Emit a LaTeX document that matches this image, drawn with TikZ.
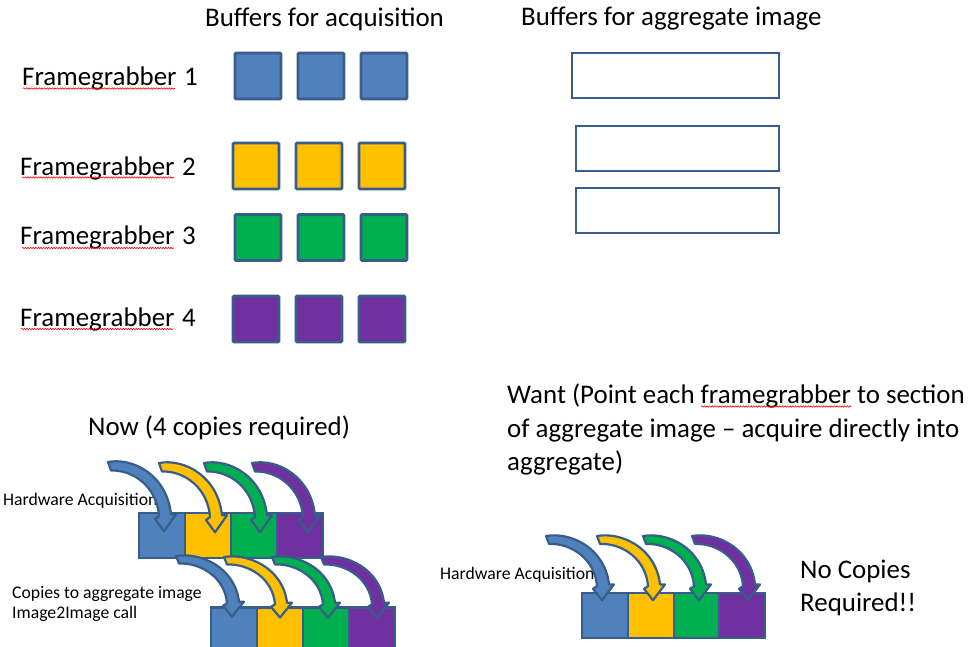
\documentclass[tikz,border=0pt]{standalone}
\usepackage{fontspec}
\setmainfont{Carlito}
\usetikzlibrary{decorations.pathmorphing}
\definecolor{cblue}{HTML}{4F81BD}
\definecolor{cyellow}{HTML}{FFC000}
\definecolor{cgreen}{HTML}{00B050}
\definecolor{cpurple}{HTML}{7030A0}
\definecolor{bord}{HTML}{385D8A}
\tikzset{
  big/.style={font=\fontsize{26.9}{32}\selectfont, inner sep=0, anchor=base west},
  small/.style={font=\fontsize{17.7}{20}\selectfont, inner sep=0, anchor=base west},
  cell/.style={draw=bord, line width=2.6, minimum width=46, minimum height=46, inner sep=0, rounded corners=1},
  scell/.style={draw=bord, line width=2.8, minimum width=46, minimum height=45, inner sep=0},
  aggbox/.style={draw=bord, line width=2.2, fill=white, inner sep=0},
  squig/.style={red, line width=0.6, decorate, decoration={snake, amplitude=0.7, segment length=2.6}},
  pics/carrow/.style={code={
    \filldraw[fill=#1, draw=bord, line width=2.2, line join=round]
      (0,0) .. controls (25,-5) and (59,14) .. (63,55) -- (68,55) -- (56,73) -- (47,60)
      -- (51,57) .. controls (49,26) and (25,8) .. (3,9) -- cycle;}}
}
\begin{document}
\begin{tikzpicture}[x=1pt,y=-1pt]
\useasboundingbox (0,0) rectangle (979,646);
% headers
\node[big] (h1) at (205,26) {Buffers for acquisition};
\node[big] (h2) at (521,25) {Buffers for aggregate image};
% framegrabber labels
\node[big] (f1) at (22,85) {Framegrabber\ \hspace{1.5pt}1};
\node[big] (f2) at (20,175) {Framegrabber\ \hspace{1.5pt}2};
\node[big] (f3) at (20,244) {Framegrabber\ \hspace{1.5pt}3};
\node[big] (f4) at (20,326) {Framegrabber\ \hspace{1.5pt}4};
\draw[squig] (23,88.5) -- (175,88.5);
\draw[squig] (22,177.5) -- (174,177.5);
\draw[squig] (22,248) -- (174,248);
\draw[squig] (21,329) -- (173,329);
% acquisition buffers
\foreach \x [count=\i] in {258,321,384}{
  \node[cell, fill=cblue] (b1\i) at (\x,76) {};}
\foreach \x [count=\i] in {256,319,382}{
  \node[cell, fill=cyellow] (b2\i) at (\x,166) {};}
\foreach \x [count=\i] in {258,321,384}{
  \node[cell, fill=cgreen] (b3\i) at (\x,237.5) {};}
\foreach \x [count=\i] in {256,319,382}{
  \node[cell, fill=cpurple] (b4\i) at (\x,319) {};}
% aggregate buffers
\node[aggbox, minimum width=207, minimum height=45] (a1) at (675.5,75.5) {};
\node[aggbox, minimum width=203, minimum height=45] (a2) at (677.5,148.5) {};
\node[aggbox, minimum width=203, minimum height=45] (a3) at (677.5,210.5) {};
% texts
\node[big] (now) at (88,435) {Now (4 copies required)};
\node[big] (w1) at (507,403) {Want (Point each framegrabber to section};
\node[big] (w2) at (507,437) {of aggregate image -- acquire directly into};
\node[big] (w3) at (507,470) {aggregate)};
\draw[squig] (701,406.5) -- (851,406.5);
\node[big] (nc1) at (800,578) {No Copies};
\node[big] (nc2) at (800,611) {Required!!};
\node[small] (hw1) at (3,505) {Hardware Acquisition};
\node[small] (cp1) at (12,598) {Copies to aggregate image};
\node[small] (cp2) at (12,618) {Image2Image call};
\node[small] (hw2) at (440,579) {Hardware Acquisition};
% upper-left strip
\node[scell, fill=cblue] (u1) at (162,535.5) {};
\node[scell, fill=cyellow] (u2) at (208,535.5) {};
\node[scell, fill=cgreen] (u3) at (254,535.5) {};
\node[scell, fill=cpurple] (u4) at (300,535.5) {};
\pic[yscale=0.95] at (108,462) {carrow=cblue};
\pic[yscale=0.95] at (159,463) {carrow=cyellow};
\pic[yscale=0.95] at (204,463) {carrow=cgreen};
\pic[yscale=0.95] at (252,463) {carrow=cpurple};
% lower-left strip
\node[scell, fill=cblue] (l1) at (234,630) {};
\node[scell, fill=cyellow] (l2) at (280,630) {};
\node[scell, fill=cgreen] (l3) at (326,630) {};
\node[scell, fill=cpurple] (l4) at (372,630) {};
\pic[yscale=0.83] at (176,556) {carrow=cblue};
\pic[yscale=0.83] at (224,557) {carrow=cyellow};
\pic[yscale=0.83] at (272,557) {carrow=cgreen};
\pic[yscale=0.83] at (321,557) {carrow=cpurple};
% right strip
\node[scell, fill=cblue] (r1) at (605,615.5) {};
\node[scell, fill=cyellow] (r2) at (651,615.5) {};
\node[scell, fill=cgreen] (r3) at (697,615.5) {};
\node[scell, fill=cpurple] (r4) at (742,615.5) {};
\pic[yscale=0.88] at (546,536) {carrow=cblue};
\pic[yscale=0.88] at (597,536) {carrow=cyellow};
\pic[yscale=0.88] at (643,536) {carrow=cgreen};
\pic[yscale=0.88] at (692,536) {carrow=cpurple};
\end{tikzpicture}
\end{document}
